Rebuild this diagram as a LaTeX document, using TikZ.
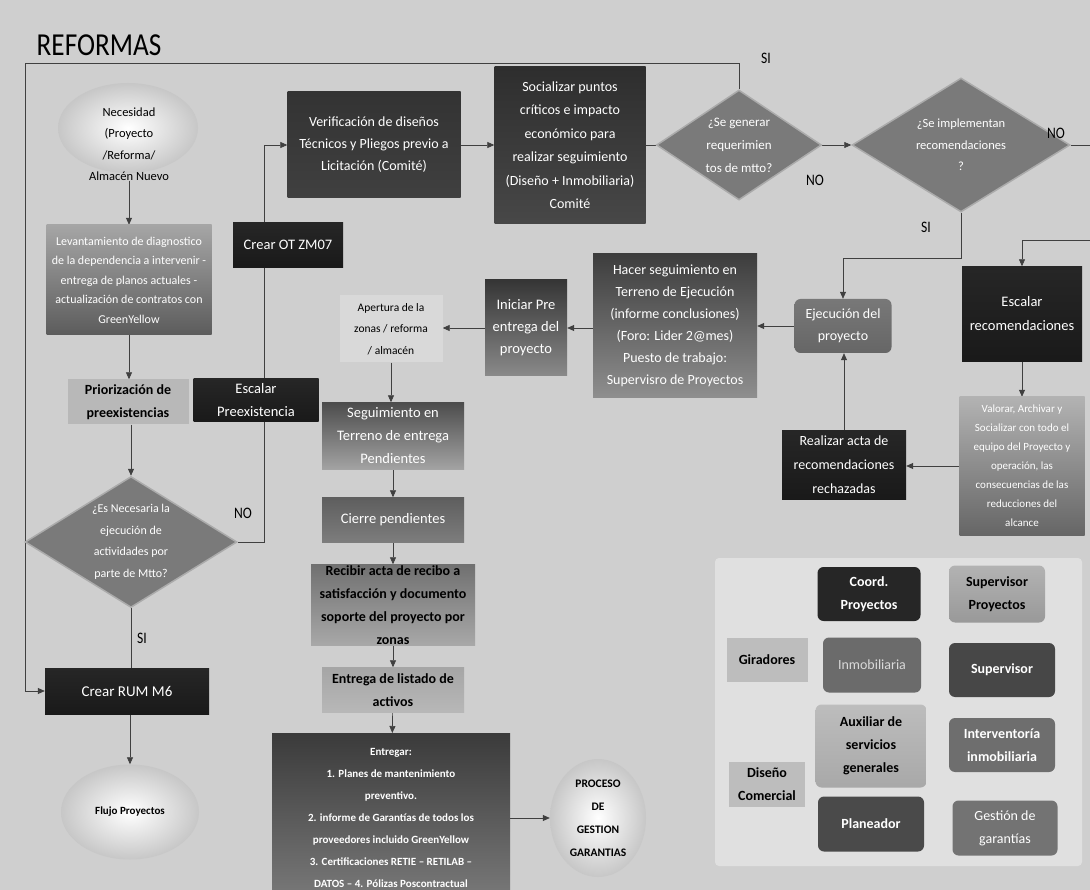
\documentclass[tikz,border=0pt]{standalone}
\usepackage{fontspec}
\setmainfont{Carlito}
\newfontfamily\narrowfont{Carlito}[FakeStretch=0.85]
\usetikzlibrary{shapes.geometric,arrows.meta}

\pgfdeclarelayer{bg}
\pgfdeclarelayer{wires}
\pgfsetlayers{bg,wires,main}

\begin{document}
\begin{tikzpicture}[x=1pt,y=-1pt,>={Triangle[length=7pt,width=6pt]},
    every node/.style={align=center,inner sep=0pt},
    flow/.style={draw=black!75,line width=0.7pt},
    dims/.style 2 args={minimum width=#1pt,minimum height=#2pt},
    tone/.style 2 args={top color=black!#1,bottom color=black!#2},
    lighttext/.style={text=white,font=\fontsize{14}{22}\selectfont},
    darktext/.style={text=black,font=\bfseries\fontsize{14}{23}\selectfont},
    dia/.style={diamond,fill=black!52,draw=black!33,line width=1.5pt},
    diatext/.style={text=white,font=\fontsize{12.5}{21.5}\selectfont},
    blob/.style={ellipse,inner color=white,outer color=black!22},
    lbl/.style={font=\narrowfont\fontsize{16}{18}\selectfont},
    legbox/.style={rounded corners=6pt,font=\bfseries\fontsize{14}{23}\selectfont}]

\useasboundingbox (0,0) rectangle (1090,890);
\begin{pgfonlayer}{bg}
\fill[black!19] (0,0) rectangle (1090,890);
\fill[black!12,rounded corners=4pt] (715,558) rectangle (1082,866);
\end{pgfonlayer}

\node[font=\narrowfont\fontsize{32}{36}\selectfont] (title) at (99,45) {REFORMAS};

% left column
\node[blob,dims={140}{90}] (necbg) at (128,128) {};
\node[font=\fontsize{12.5}{21.5}\selectfont] (nec) at (129,144) {Necesidad\\(Proyecto\\/Reforma/\\Almacén Nuevo};
\node[dims={165}{110},tone={35}{64},text=white,font=\fontsize{12}{19.5}\selectfont] (levant) at (129,280)
    {Levantamiento de diagnostico\\de la dependencia a intervenir -\\entrega de planos actuales -\\actualización de contratos con\\GreenYellow};
\node[dims={121}{45},fill=black!28,darktext] (prior) at (128,402) {Priorización de\\preexistencias};
\node[dims={125}{43},tone={85}{90},lighttext,font=\fontsize{14.5}{23}\selectfont] (escpre) at (256,400) {Escalar\\Preexistencia};
\node[dia,dims={212}{131}] (dmtto) at (131,542) {};
\node[diatext,font=\fontsize{12}{21.5}\selectfont] (dmttotxt) at (dmtto) {¿Es Necesaria la\\ejecución de\\actividades por\\parte de Mtto?};
\node[dims={164}{46},tone={85}{90},lighttext,font=\fontsize{15}{23}\selectfont] (crearrum) at (127,691) {Crear RUM M6};
\node[blob,dims={138}{95}] (flujo) at (130,812) {};
\node[font=\bfseries\fontsize{11}{14}\selectfont] (flujotxt) at (flujo) {Flujo Proyectos};

% top row
\node[dims={110}{45},tone={85}{90},lighttext,font=\fontsize{14.5}{23}\selectfont] (crearot) at (288,245) {Crear OT ZM07};
\node[dims={173}{106},tone={80}{75},lighttext] (verif) at (374,145) {Verificación de diseños\\Técnicos y Pliegos previo a\\Licitación (Comité)};
\node[dims={151}{157},tone={82}{72},lighttext,font=\fontsize{14}{23.5}\selectfont] (social) at (570,145)
    {Socializar puntos\\críticos e impacto\\económico para\\realizar seguimiento\\(Diseño + Inmobiliaria)\\Comité};
\node[dia,dims={165}{110}] (dgen) at (739,145) {};
\node[diatext,font=\fontsize{13}{23}\selectfont] (dgentxt) at (dgen) {¿Se generar\\requerimien\\tos de mtto?};
\node[dia,dims={218}{134}] (dimp) at (961,145) {};
\node[diatext] (dimptxt) at (dimp) {¿Se implementan\\recomendaciones\\?};

% right side
\node[dims={120}{95},tone={85}{90},lighttext,font=\fontsize{14.5}{24}\selectfont] (escrec) at (1022,314) {Escalar\\recomendaciones};
\node[dims={125}{138},tone={30}{60},text=white,font=\fontsize{11}{19}\selectfont] (valorar) at (1022,466)
    {Valorar, Archivar y\\Socializar con todo el\\equipo del Proyecto y\\operación, las\\consecuencias de las\\reducciones del\\alcance};
\node[dims={124}{68},tone={85}{90},lighttext,font=\fontsize{14}{24}\selectfont] (realizar) at (844,465) {Realizar acta de\\recomendaciones\\rechazadas};
\node[dims={97}{54},tone={53}{60},rounded corners=6pt,lighttext] (ejec) at (843,326) {Ejecución del\\proyecto};

% middle column
\node[dims={164}{144},tone={76}{44},lighttext] (hacer) at (675,326)
    {Hacer seguimiento en\\Terreno de Ejecución\\(informe conclusiones)\\(Foro: Lider 2@mes)\\Puesto de trabajo:\\Supervisro de Proyectos};
\node[dims={82}{96},tone={79}{46},lighttext,font=\fontsize{14.5}{22}\selectfont] (iniciar) at (526,328) {Iniciar Pre\\entrega del\\proyecto};
\node[dims={103}{67},fill=black!15,font=\fontsize{11.5}{21.5}\selectfont] (apertura) at (391,329) {Apertura de la\\zonas / reforma\\/ almacén};
\node[dims={142}{67},tone={70}{36},lighttext,font=\fontsize{14.5}{23}\selectfont] (seguim) at (393,436) {Seguimiento en\\Terreno de entrega\\Pendientes};
\node[dims={142}{45},tone={63}{51},lighttext,font=\fontsize{14.5}{23}\selectfont] (cierre) at (393,520) {Cierre pendientes};
\node[dims={164}{81},tone={56}{34},darktext,font=\bfseries\fontsize{14}{23}\selectfont] (recibir) at (393,605)
    {Recibir acta de recibo a\\satisfacción y documento\\soporte del proyecto por\\zonas};
\node[dims={142}{45},tone={35}{28},darktext] (listado) at (393,690) {Entrega de listado de\\activos};
\node[anchor=north,dims={238}{170},tone={77}{52},text=white,font=\bfseries\fontsize{11}{22}\selectfont] (entregar) at (391,733)
    {Entregar:\\1. Planes de mantenimiento\\preventivo.\\2. informe de Garantías de todos los\\proveedores incluido GreenYellow\\3. Certificaciones RETIE – RETILAB –\\DATOS – 4. Pólizas Poscontractual};
\node[blob,dims={96}{118}] (proceso) at (598,818) {};
\node[font=\bfseries\fontsize{11.5}{23}\selectfont] (procesotxt) at (proceso) {PROCESO\\DE\\GESTION\\GARANTIAS};

% branch labels
\node[lbl] (si1) at (766,58) {SI};
\node[lbl] (no1) at (815,180) {NO};
\node[lbl] (no2) at (1056,133) {NO};
\node[lbl] (si2) at (926,227) {SI};
\node[lbl] (no3) at (243,513) {NO};
\node[lbl] (si3) at (142,638) {SI};

% legend
\node[legbox,dims={103}{54},fill=black!85,text=white] (coord) at (869,594) {Coord.\\Proyectos};
\node[legbox,dims={96}{57},tone={30}{40}] (supproy) at (997,594) {Supervisor\\Proyectos};
\node[legbox,rounded corners=0pt,dims={81}{44},fill=black!26] (girad) at (767,660) {Giradores};
\node[legbox,dims={98}{55},fill=black!58,text=black!15,font=\fontsize{14}{23}\selectfont] (inmob) at (872,665) {Inmobiliaria};
\node[legbox,dims={106}{54},fill=black!72,text=white] (superv) at (1002,670) {Supervisor};
\node[legbox,dims={111}{83},tone={26}{34}] (auxil) at (871,746) {Auxiliar de\\servicios\\generales};
\node[legbox,dims={106}{54},fill=black!57,text=white] (interv) at (1002,745) {Interventoría\\inmobiliaria};
\node[legbox,rounded corners=0pt,dims={76}{45},fill=black!26] (disen) at (767,784) {Diseño\\Comercial};
\node[legbox,dims={106}{55},fill=black!71,text=white] (planea) at (871,824) {Planeador};
\node[legbox,dims={105}{55},fill=black!55,text=white,font=\fontsize{14}{23}\selectfont] (gestion) at (1005,828) {Gestión de\\garantías};

\coordinate (loopnw) at (25,63);
\coordinate (rimcorner) at (1100,240);

\begin{pgfonlayer}{wires}
\draw[flow,->] (nec.south) -- (nec.south |- levant.north);
\draw[flow,->] (levant.south) -- (levant.south |- prior.north);
\draw[flow,->] (prior.south -| dmtto.north) -- (dmtto.north);
\draw[flow,->] (dmtto.east) -- ++(27,0) |- (verif.west);
\draw[flow] (dmtto.south) -- (dmtto.south |- crearrum.north);
\draw[flow,->] (crearrum.south -| flujo.north) -- (flujo.north);

\draw[flow,->] (verif.east) -- (verif.east -| social.west);
\draw[flow] (social.east |- dgen.west) -- (dgen.west);
\draw[flow,->] (dgen.east) -- (dimp.west);
\draw[flow,->] (dgen.north) |- (loopnw) |- (crearrum.west);
\draw[flow,->] (dimp.east) -| (rimcorner) -| (escrec.north);
\draw[flow,->] (dimp.south) -- ++(0,46) -| (ejec.north);

\draw[flow,->] (escrec) -- (valorar);
\draw[flow,->] (valorar.west) -- (valorar.west -| realizar.east);
\draw[flow,->] (realizar.north) -- (realizar.north |- ejec.south);
\draw[flow,->] (ejec.west) -- (ejec.west -| hacer.east);
\draw[flow,->] (hacer.west |- iniciar.east) -- (iniciar.east);
\draw[flow,->] (iniciar.west) -- (iniciar.west -| apertura.east);
\draw[flow,->] (apertura.south) -- (apertura.south |- seguim.north);
\draw[flow,->] (seguim) -- (cierre);
\draw[flow,->] (cierre) -- (recibir);
\draw[flow,->] (recibir) -- (listado);
\draw[flow,->] (listado) -- (entregar);
\draw[flow,->] (entregar.east |- proceso.west) -- (proceso.west);
\end{pgfonlayer}

\end{tikzpicture}
\end{document}
